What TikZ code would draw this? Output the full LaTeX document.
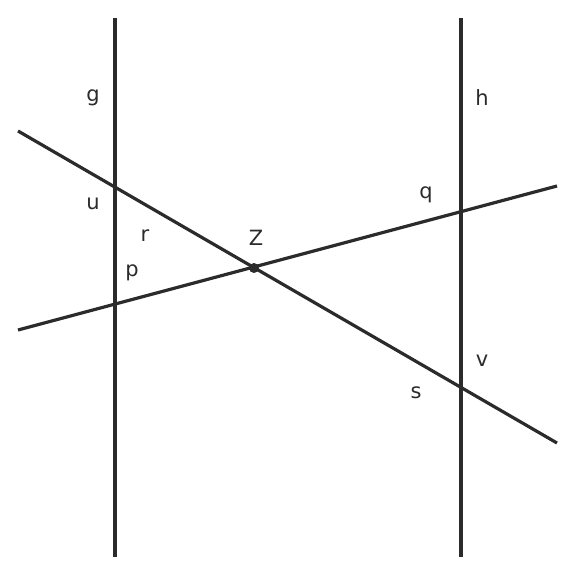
\documentclass[tikz,border=0pt]{standalone}
\usepackage{fontspec}
\setmainfont{DejaVu Sans}
\begin{document}
\begin{tikzpicture}[x=1pt,y=-1pt,
  ln/.style={line width=3.2pt,color=black!83},
  lab/.style={font=\fontsize{21}{24}\selectfont,text=black!83,inner sep=0pt}]
\useasboundingbox (0,0) rectangle (576,576);
\coordinate (g1) at (115,18);
\coordinate (g2) at (115,557);
\coordinate (h1) at (461,18);
\coordinate (h2) at (461,557);
\coordinate (a1) at (18,131);
\coordinate (a2) at (557,443);
\coordinate (b1) at (18,330);
\coordinate (b2) at (557,186);
\draw[ln] (g1) -- (g2);
\draw[ln] (h1) -- (h2);
\draw[ln] (a1) -- (a2);
\draw[ln] (b1) -- (b2);
\fill[black!83] (254,268) circle (5pt) coordinate (Z);
\node[lab] (lg) at (93,98) {g};
\node[lab] (lh) at (482,98) {h};
\node[lab] (lu) at (93,204) {u};
\node[lab] (lr) at (145,236) {r};
\node[lab] (lZ) at (256,238) {Z};
\node[lab] (lp) at (132,273) {p};
\node[lab] (lq) at (426,195) {q};
\node[lab] (lv) at (482,361) {v};
\node[lab] (ls) at (416,393) {s};
\end{tikzpicture}
\end{document}
